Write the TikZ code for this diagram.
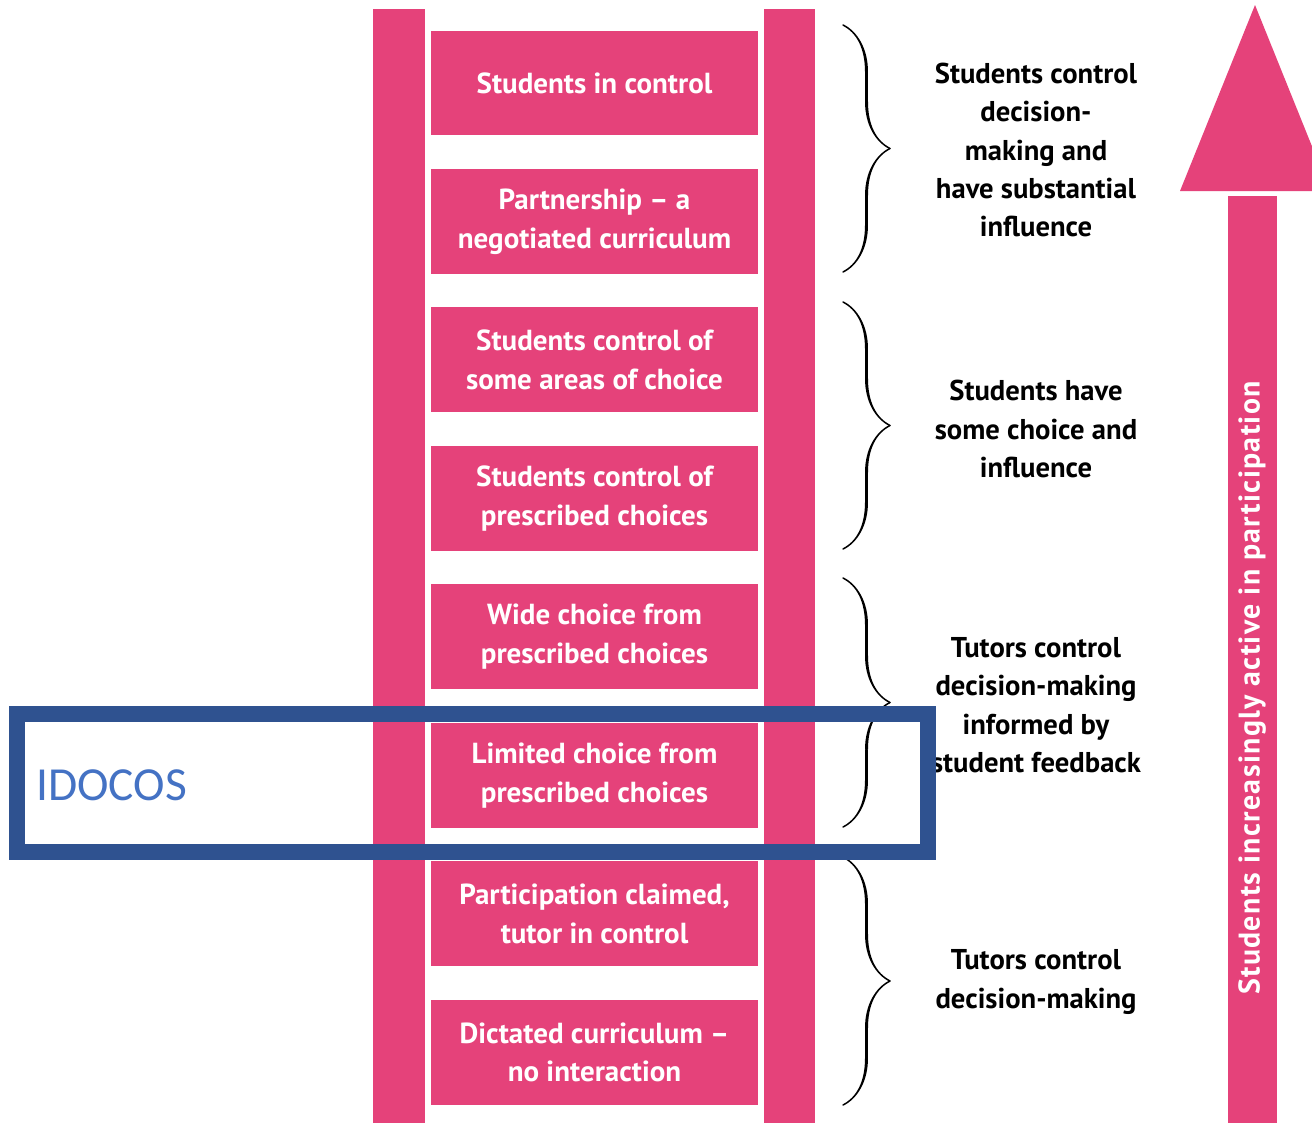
\documentclass[tikz,border=0pt]{standalone}
\usepackage{fontspec}
\setmainfont{PT Sans}
\newfontfamily\calibri{Carlito}
\usetikzlibrary{decorations.pathreplacing,calligraphy}
\usetikzlibrary{positioning}
\definecolor{rosa}{HTML}{E5427A}
\definecolor{blu}{HTML}{2F5290}
\definecolor{azzurro}{HTML}{4472C4}

\tikzset{
  gradino/.style={fill=rosa, text=white, font=\bfseries\fontsize{16.5}{22}\selectfont,
    minimum width=6.54cm, minimum height=2.1cm, align=center, inner sep=0pt, outer sep=0pt},
  testo/.style={font=\bfseries\fontsize{16.3}{21.9}\selectfont, align=center},
  graffa/.style={decorate, decoration={calligraphic brace, amplitude=0.94cm}, line width=1.7pt}
}

\begin{document}
\begin{tikzpicture}[x=0.02cm, y=-0.02cm]

\clip (0,0) rectangle (1312,1123);
\fill[white] (0,0) rectangle (1312,1123); % sfondo

% montanti
\fill[rosa] (373,9) rectangle (425,1123);
\fill[rosa] (764,9) rectangle (815,1123);

% gradini
\node[gradino] (r1) at (594.5,83) {Students in control};
\node[gradino, below=0.67cm of r1] (r2) {Partnership -- a\\negotiated curriculum};
\node[gradino, below=0.67cm of r2] (r3) {Students control of\\some areas of choice};
\node[gradino, below=0.67cm of r3] (r4) {Students control of\\prescribed choices};
\node[gradino, below=0.67cm of r4] (r5) {Wide choice from\\prescribed choices};
\node[gradino, below=0.67cm of r5] (r6) {Limited choice from\\prescribed choices};
\node[gradino, below=0.67cm of r6] (r7) {Participation claimed,\\tutor in control};
\node[gradino, below=0.67cm of r7] (r8) {Dictated curriculum --\\no interaction};

% graffe + testi
\draw[graffa] (843,25) -- (843,272);
\node[testo] (t1) at (1036,150) {Students control\\decision-\\making and\\have substantial\\influence};

\draw[graffa] (843,302) -- (843,549);
\node[testo] (t2) at (1036,429) {Students have\\some choice and\\influence};

\draw[graffa] (843,578) -- (843,827);
\node[testo] (t3) at (1036,705) {Tutors control\\decision-making\\informed by\\student feedback};

\draw[graffa] (843,857) -- (843,1105);
\node[testo] (t4) at (1036,982) {Tutors control\\decision-making};

% freccia
\fill[rosa] (1228,196) rectangle (1277,1123);
\fill[rosa] (1255,5) -- (1180,191) -- (1330,191) -- cycle;
\node[rotate=90, text=white, font=\bfseries\fontsize{17}{18}\selectfont\addfontfeatures{LetterSpace=4.5}] (part) at (1252,688)
  {Students increasingly active in participation};

% riquadro IDOCOS
\draw[blu, line width=0.32cm] (17,714) rectangle (928,852);
\node[anchor=west, text=azzurro, font=\calibri\fontsize{27}{30}\selectfont] (ido) at (30,785) {IDOCOS};

\end{tikzpicture}
\end{document}
